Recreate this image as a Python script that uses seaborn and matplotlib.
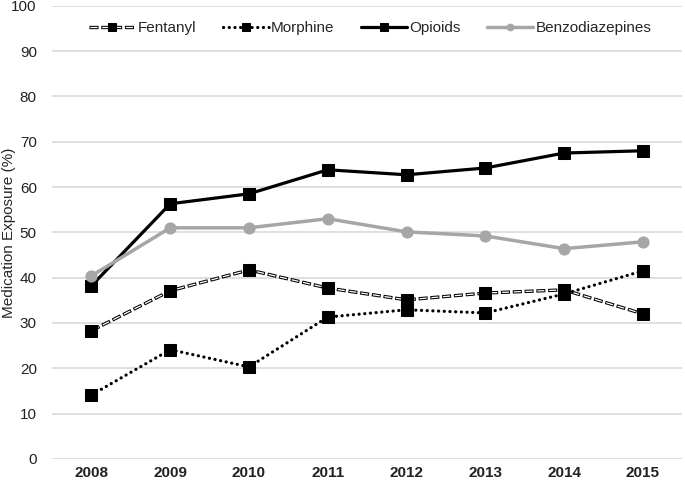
import pandas as pd
import numpy as np
import matplotlib.pyplot as plt
import seaborn as sns

years = ['2008', '2009', '2010', '2011', '2012', '2013', '2014', '2015']
fentanyl = [28.3, 37.1, 41.7, 37.7, 35.1, 36.6, 37.3, 32.0]
morphine = [14.1, 24.1, 20.3, 31.3, 32.9, 32.2, 36.4, 41.5]
opioids = [38.2, 56.3, 58.5, 63.8, 62.7, 64.2, 67.5, 68.0]
benzo = [40.4, 51.0, 51.0, 53.0, 50.1, 49.2, 46.4, 47.9]

sns.set_style('white')
plt.rcParams['font.family'] = ['Liberation Sans', 'DejaVu Sans']
plt.rcParams['lines.scale_dashes'] = False

fig = plt.figure(figsize=(6.85, 4.82), dpi=100)
ax = fig.add_axes([0.076, 0.048, 0.920, 0.940])

df = pd.DataFrame({'Year': years, 'Fentanyl': fentanyl, 'Morphine': morphine,
                   'Opioids': opioids, 'Benzodiazepines': benzo})

# fentanyl: outlined dashes = thick black dashes + thin white dashes on top
sns.lineplot(x='Year', y='Fentanyl', data=df, ax=ax, color='black', lw=2.4,
             sort=False, legend=False)
f_black = ax.lines[-1]
f_black.set_linestyle((0, (6.5, 2.0)))
f_black.set_dash_capstyle('butt')
sns.lineplot(x='Year', y='Fentanyl', data=df, ax=ax, color='white', lw=0.9,
             sort=False, legend=False)
f_white = ax.lines[-1]
f_white.set_linestyle((-0.7, (5.1, 3.4)))
f_white.set_dash_capstyle('butt')
sns.lineplot(x='Year', y='Fentanyl', data=df, ax=ax, lw=0, marker='s', markersize=9,
             markerfacecolor='black', markeredgecolor='black', sort=False, legend=False)
f_mark = ax.lines[-1]

sns.lineplot(x='Year', y='Morphine', data=df, ax=ax, color='black', lw=2.3,
             marker='s', markersize=9, markeredgecolor='black', sort=False, legend=False)
m_line = ax.lines[-1]
m_line.set_linestyle((0, (0.1, 4.0)))
m_line.set_dash_capstyle('round')

sns.lineplot(x='Year', y='Opioids', data=df, ax=ax, color='black', lw=2.3,
             marker='s', markersize=9, markeredgecolor='black', sort=False, legend=False)
o_line = ax.lines[-1]
sns.lineplot(x='Year', y='Benzodiazepines', data=df, ax=ax, color='#a6a6a6', lw=2.5,
             marker='o', markersize=8, markeredgecolor='#a6a6a6', sort=False, legend=False)
b_line = ax.lines[-1]

ax.set_xlim(-0.5, 7.5)
ax.set_ylim(0, 100)
ax.set_yticks(np.arange(0, 101, 10))
ax.yaxis.grid(True, color='#d9d9d9', lw=1.2)
ax.set_axisbelow(True)
for s in ax.spines.values():
    s.set_visible(False)
ax.tick_params(axis='both', length=0, labelsize=11, colors='#222222')
ax.tick_params(axis='y', pad=11)
ax.tick_params(axis='x', pad=5)
for t in ax.get_xticklabels():
    t.set_fontweight('bold')
ax.set_xlabel('')
ax.set_ylabel('Medication Exposure (%)', fontsize=11)
ax.yaxis.set_label_coords(-0.057, 0.5)

ax.legend([(f_black, f_white, f_mark), m_line, o_line, b_line],
          ['Fentanyl', 'Morphine', 'Opioids', 'Benzodiazepines'],
          loc='upper center', bbox_to_anchor=(0.505, 0.997), ncol=4, frameon=False,
          fontsize=11, handlelength=3.0, columnspacing=1.75, handletextpad=0.15,
          markerscale=0.6)

plt.savefig('out.png', dpi=100)
